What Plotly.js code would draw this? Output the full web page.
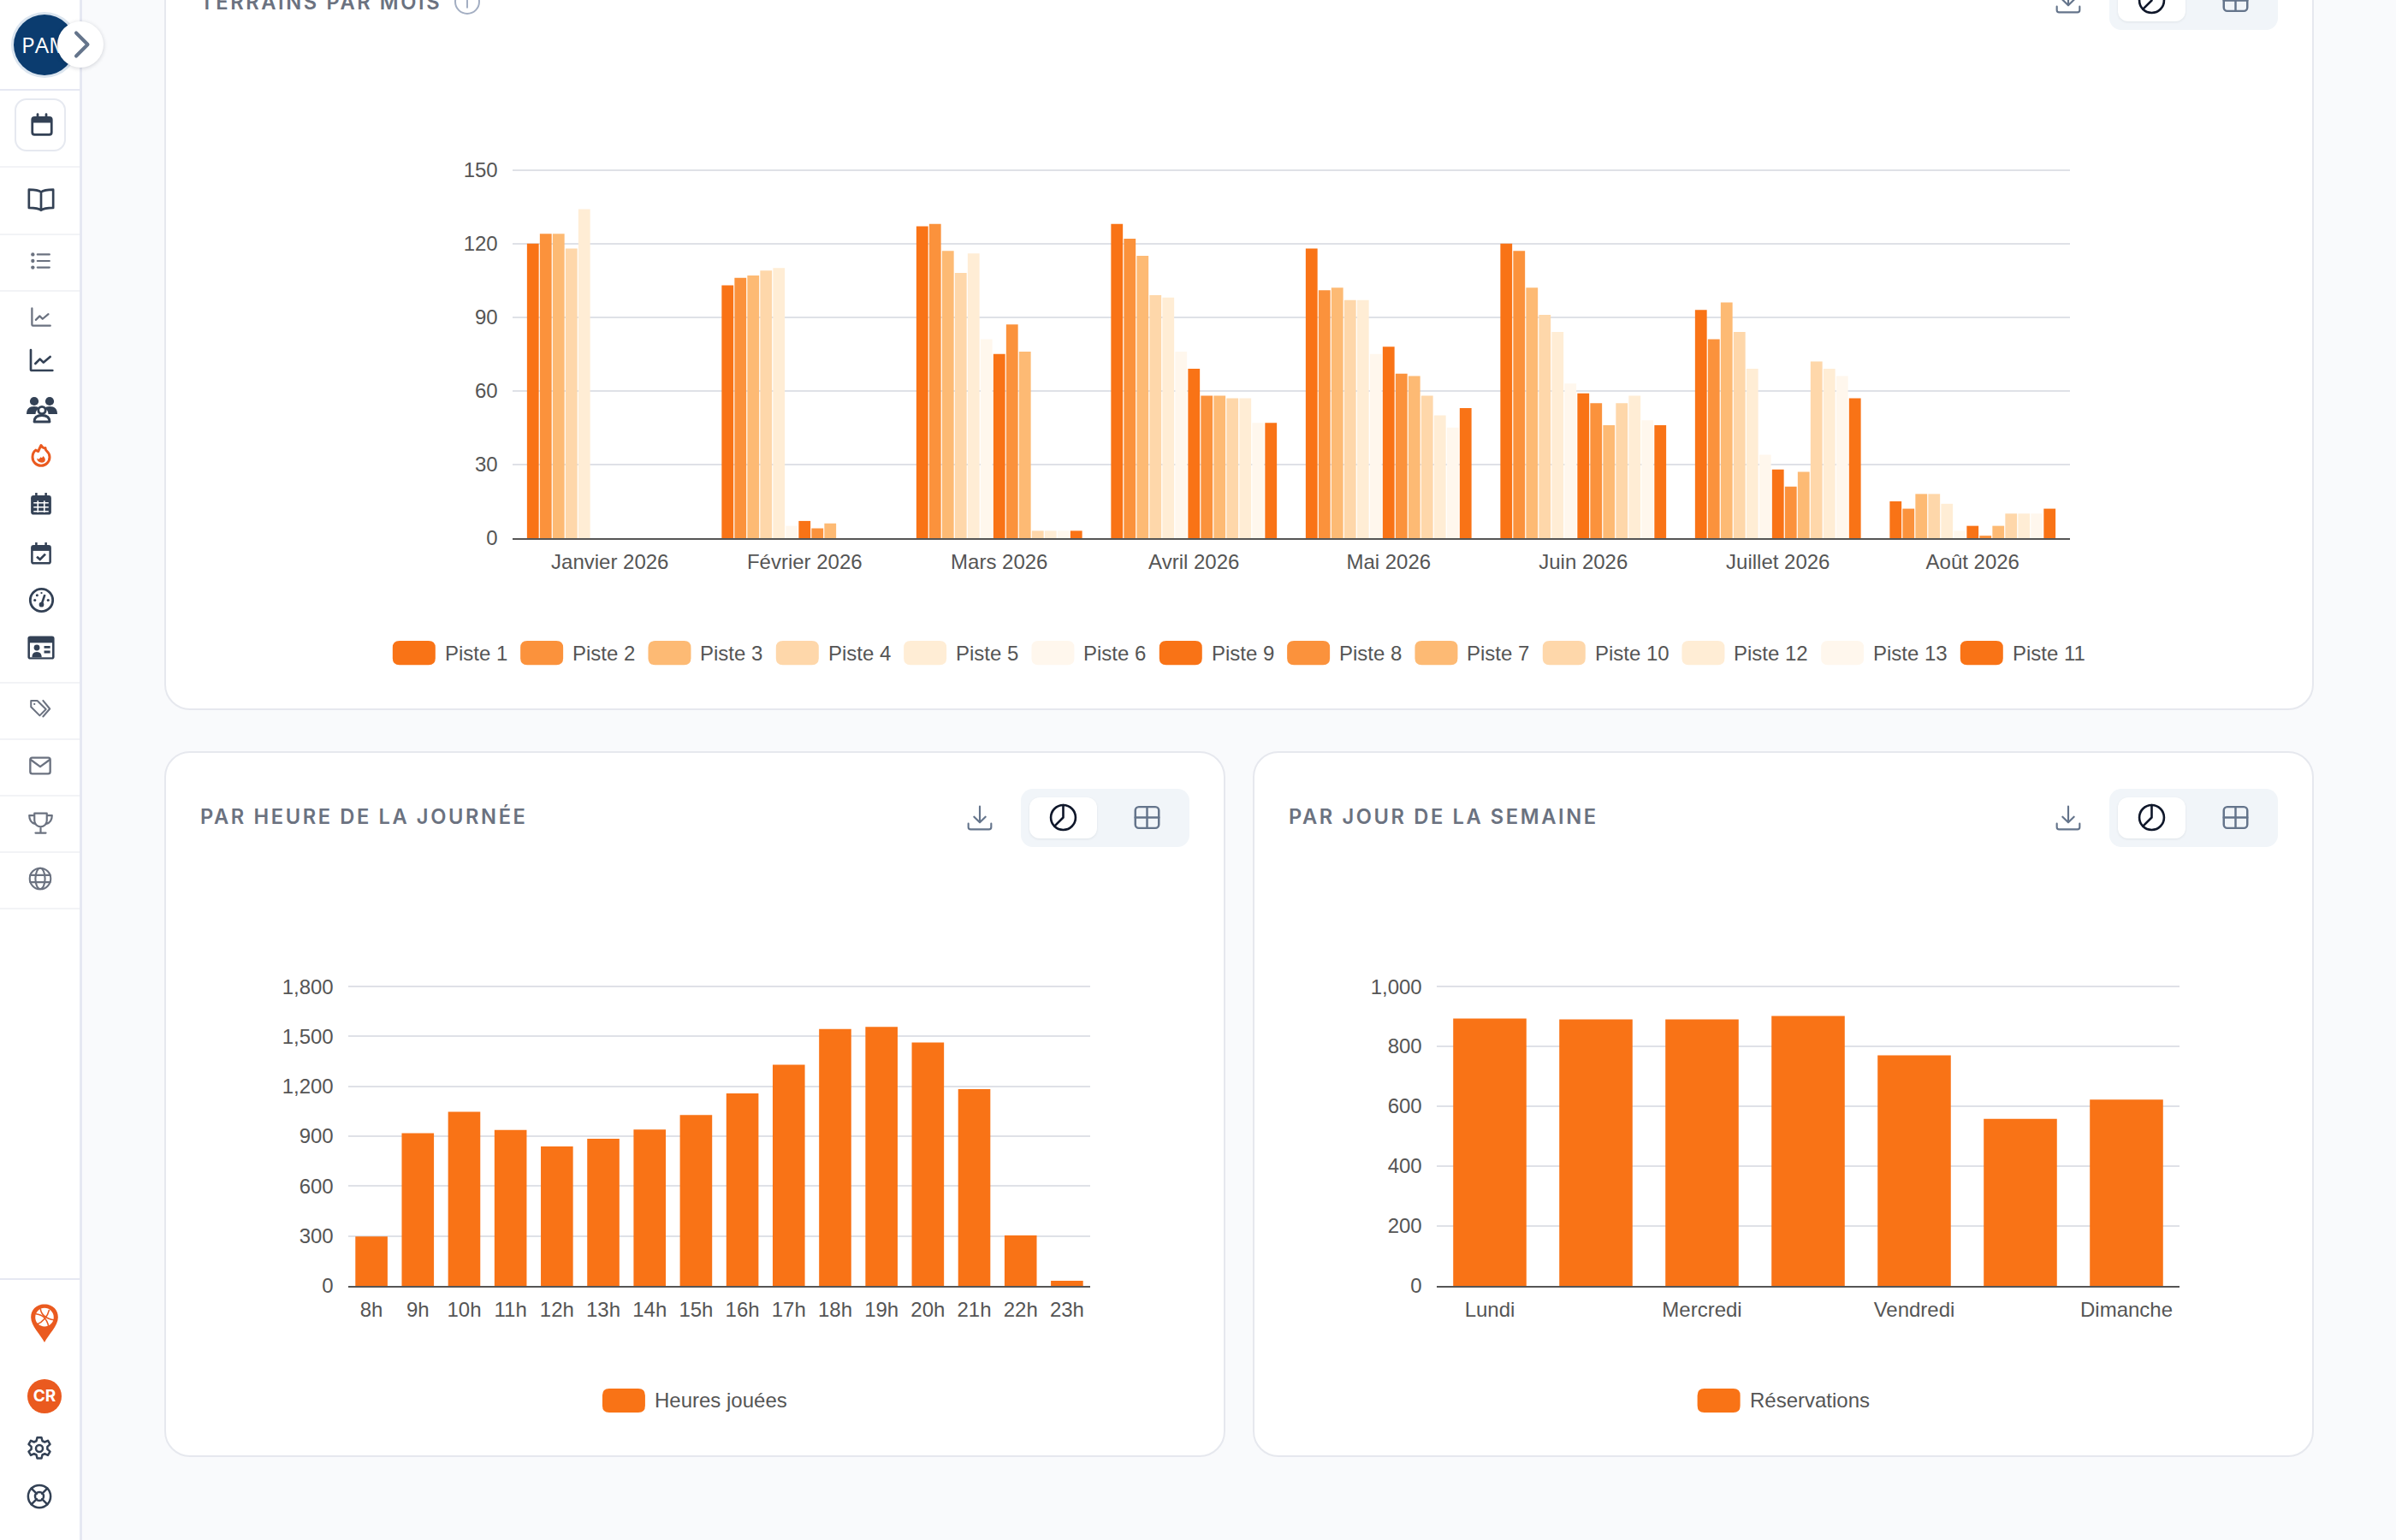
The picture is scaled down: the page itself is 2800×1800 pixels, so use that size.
<!DOCTYPE html>
<html lang="fr"><head><meta charset="utf-8">
<script src="https://cdn.plot.ly/plotly-3.0.1.min.js"></script>
<style>
html,body{margin:0;padding:0;width:2800px;height:1800px;overflow:hidden;background:#f9fafc;font-family:"Liberation Sans",sans-serif}
.abs{position:absolute}
.card{position:absolute;box-sizing:border-box;background:#fff;border:2px solid #e6e8ee;border-radius:30px}
.chart{position:absolute}
.title{position:absolute;font:600 23.7px Inter,sans-serif;letter-spacing:2.6px;color:#6b7280;white-space:nowrap;line-height:30px}
.toggle{position:absolute;width:197px;height:68px;background:#f1f5f9;border-radius:14px}
.on{position:absolute;left:10px;top:10px;width:79px;height:48px;background:#fff;border-radius:12px;box-shadow:0 1px 3px rgba(15,23,42,.08)}
.ic{position:absolute}
.side{position:absolute;left:0;top:0;width:96px;height:1800px;background:#fff;box-sizing:border-box;border-right:3px solid #e6e8f2}
.dv{position:absolute;left:0;width:93px;height:2px;background:#f2f3f6}
</style></head><body>
<div class="card" style="left:192px;top:-60px;width:2512px;height:890px"></div>
<div class="card" style="left:192px;top:878px;width:1240px;height:825px"></div>
<div class="card" style="left:1464px;top:878px;width:1240px;height:825px"></div>
<div id="c1" class="chart"></div><div id="c2" class="chart"></div><div id="c3" class="chart"></div>
<div id="chrome"></div>
<script>
// ---------- data ----------
const months = ["Janvier 2026","Février 2026","Mars 2026","Avril 2026","Mai 2026","Juin 2026","Juillet 2026","Août 2026"];
const piste1  = [120,103,127,128,118,120,93,15];
const piste2  = [124,106,128,122,101,117,81,12];
const piste3  = [124,107,117,115,102,102,96,18];
const piste4  = [118,109,108,99,97,91,84,18];
const piste5  = [134,110,116,98,97,84,69,14];
const piste6  = [0,5,81,76,75,63,34,3];
const piste9  = [0,7,75,69,78,59,28,5];
const piste8  = [0,4,87,58,67,55,21,1];
const piste7  = [0,6,76,58,66,46,27,5];
const piste10 = [0,0,3,57,58,55,72,10];
const piste12 = [0,0,3,57,50,58,69,10];
const piste13 = [0,0,3,47,45,48,66,10];
const piste11 = [0,0,3,47,53,46,57,12];
const monthNames  = ["Piste 1","Piste 2","Piste 3","Piste 4","Piste 5","Piste 6","Piste 9","Piste 8","Piste 7","Piste 10","Piste 12","Piste 13","Piste 11"];
const monthSeries = [piste1,piste2,piste3,piste4,piste5,piste6,piste9,piste8,piste7,piste10,piste12,piste13,piste11];
const shades = ["#f97316","#fb923c","#fdba74","#fed7aa","#ffedd5","#fff7ed","#f97316","#fb923c","#fdba74","#fed7aa","#ffedd5","#fff7ed","#f97316"];
const monthTicks = [0,30,60,90,120,150];

const hours = ["8h","9h","10h","11h","12h","13h","14h","15h","16h","17h","18h","19h","20h","21h","22h","23h"];
const hoursPlayed = [297,918,1047,937,838,885,940,1027,1157,1330,1545,1558,1464,1183,303,31];
const hourTicks = [0,300,600,900,1200,1500,1800];

const days = ["Lundi","Mardi","Mercredi","Jeudi","Vendredi","Samedi","Dimanche"];
const dayLabels = ["Lundi","Mercredi","Vendredi","Dimanche"];
const bookings = [893,890,890,902,770,558,622];
const dayTicks = [0,200,400,600,800,1000];

// ---------- helpers ----------
const FONT = "Liberation Sans";
const TXT = "#555555";
const FS = 24;
function textW(s){const c=textW.c||(textW.c=document.createElement("canvas").getContext("2d"));c.font=FS+"px '"+FONT+"'";return c.measureText(s).width}

function draw(id,box,plot,traces,xcfg,ticks,maxY,bargap,groupgap,legendNames,legendColors,legendY){
  const el=document.getElementById(id);
  el.style.cssText=`left:${box.l}px;top:${box.t}px;width:${box.w}px;height:${box.h}px`;
  // the range runs a hair past the last tick so that its gridline is kept
  const over=1.006;
  const top=plot.b-(plot.b-plot.t)*over;
  const m={l:plot.l-box.l,r:box.l+box.w-plot.r,t:top-box.t,b:box.t+box.h-plot.b,pad:0,autoexpand:false};
  const pw=plot.r-plot.l,ph=plot.b-top;
  const fx=p=>(p-plot.l)/pw, fy=p=>(plot.b-p)/ph;
  // legend drawn as shapes + annotations, centred on the card
  const sw=50,sh=28,rad=8,tg=11,gap=15;
  const widths=legendNames.map(n=>sw+tg+textW(n));
  const total=widths.reduce((a,b)=>a+b,0)+gap*(widths.length-1);
  let x=box.l+box.w/2-total/2;
  const shapes=[],ann=[];
  legendNames.forEach((n,i)=>{
    const a=x,b=x+sw,t=legendY-sh/2,u=legendY+sh/2;
    const P=(px,py)=>fx(px)+","+fy(py);
    const path="M"+P(a+rad,t)+" L"+P(b-rad,t)+" Q"+P(b,t)+" "+P(b,t+rad)+" L"+P(b,u-rad)+" Q"+P(b,u)+" "+P(b-rad,u)+
      " L"+P(a+rad,u)+" Q"+P(a,u)+" "+P(a,u-rad)+" L"+P(a,t+rad)+" Q"+P(a,t)+" "+P(a+rad,t)+" Z";
    shapes.push({type:"path",xref:"paper",yref:"paper",path,fillcolor:legendColors[i],line:{width:0}});
    ann.push({xref:"paper",yref:"paper",x:fx(x+sw+tg-2),y:fy(legendY),xanchor:"left",yanchor:"middle",showarrow:false,text:n,font:{family:FONT,size:FS,color:TXT}});
    x+=widths[i]+gap;
  });
  Plotly.newPlot(el,traces,{
    width:box.w,height:box.h,margin:m,paper_bgcolor:"rgba(0,0,0,0)",plot_bgcolor:"rgba(0,0,0,0)",
    barmode:"group",bargap,bargroupgap:groupgap,showlegend:false,shapes,annotations:ann,
    font:{family:FONT,size:FS,color:TXT},
    xaxis:Object.assign({type:"category",showgrid:false,zeroline:false,showline:true,linecolor:"#555555",linewidth:2,ticks:"outside",ticklen:5,tickcolor:"rgba(0,0,0,0)",tickangle:0,tickfont:{family:FONT,size:FS,color:TXT},fixedrange:true},xcfg),
    yaxis:{range:[0,maxY*over],tickmode:"array",tickvals:ticks,ticktext:ticks.map(v=>v.toLocaleString("en-US")),showgrid:true,gridcolor:"#dfe1e7",gridwidth:2,zeroline:false,showline:false,ticks:"outside",ticklen:11.5,tickcolor:"rgba(0,0,0,0)",tickfont:{family:FONT,size:FS,color:TXT},fixedrange:true}
  },{staticPlot:true,displayModeBar:false});
}

// ---------- charts ----------
draw("c1",{l:192,t:0,w:2512,h:830},{l:599,r:2419.5,t:199,b:629},
  monthNames.map((n,i)=>({type:"bar",name:n,x:months,y:monthSeries[i],marker:{color:shades[i],line:{width:0}}})),
  {},monthTicks,150,0.143,0.08,monthNames,shades,763);
draw("c2",{l:192,t:878,w:1240,h:825},{l:407,r:1274.5,t:1153,b:1503},
  [{type:"bar",name:"Heures jouées",x:hours,y:hoursPlayed,marker:{color:shades[0],line:{width:0}}}],
  {},hourTicks,1800,0.306,0,["Heures jouées"],[shades[0]],1637);
draw("c3",{l:1464,t:878,w:1240,h:825},{l:1679,r:2546.6,t:1153,b:1503},
  [{type:"bar",name:"Réservations",x:days,y:bookings,marker:{color:shades[0],line:{width:0}}}],
  {tickmode:"array",tickvals:dayLabels,ticktext:dayLabels},dayTicks,1000,0.31,0,["Réservations"],[shades[0]],1637);

// ---------- page chrome ----------
const S=(p,c="#334155",w=2,fill="none")=>`<g fill="${fill}" stroke="${c}" stroke-width="${w}" stroke-linecap="round" stroke-linejoin="round">${p}</g>`;
const I={
 download:c=>S('<path d="M12 2v14M7 11l5 5 5-5M2 17v3a2 2 0 0 0 2 2h16a2 2 0 0 0 2-2v-3"/>',c,1.6),
 pie:c=>S('<circle cx="12" cy="12" r="10.5"/><path d="M12 1.5V12l-7.4 7.4"/>',c,1.9),
 table:c=>S('<rect x="2" y="3" width="20" height="18" rx="3"/><path d="M12 3v18M2 12h20"/>',c,1.8),
 cal:c=>S('<rect x="3" y="5" width="18" height="16" rx="2"/><path d="M8 2v3M16 2v3"/>',c,2.2)+`<rect x="3" y="5" width="18" height="5" fill="${c}"/>`,
 book:c=>S('<path d="M12 6c-2-1.6-5-2-10-2v15c5 0 8 .4 10 2 2-1.6 5-2 10-2V4c-5 0-8 .4-10 2zM12 6v15"/>',c,1.9),
 list:c=>S('<path d="M9 5h13M9 12h13M9 19h13"/>',c,2)+`<g fill="${c}"><circle cx="4" cy="5" r="2"/><circle cx="4" cy="12" r="2"/><circle cx="4" cy="19" r="2"/></g>`,
 line:c=>S('<path d="M3 3v17a1 1 0 0 0 1 1h18M7 15l4-4 3 3 6-5"/>',c,2),
 users:c=>`<g fill="${c}"><circle cx="6" cy="6" r="3.4"/><circle cx="18" cy="6" r="3.4"/><path d="M0 16c0-4 2-6 6-6 2 0 3 .5 4 1.5-2 1-3 2.5-3 4.5H0zM24 16c0-4-2-6-6-6-2 0-3 .5-4 1.5 2 1 3 2.5 3 4.5h7z"/></g>`+S('<circle cx="12" cy="13" r="2.8"/><path d="M6 22c0-3 2-5 6-5s6 2 6 5z"/>',c,1.9),
 flame:c=>S('<path d="M12 2c1 2 3 3 4 2.5 0 1 .5 2 1 2.5 2 1.8 3 3.5 3 6a8 8 0 0 1-16 0c0-3 1-5 3-6.500C8 7 9 8 9.5 7.5 10 6 11 4 12 2z"/>',c,2.4)+`<path d="M8 14c1 1.5 2.5 1 3.5-1 1 1 1.5 1 2.5-1 1.5 1.5 2.5 3 1.5 5a4.5 4.5 0 0 1-7.5-3z" fill="${c}"/>`,
 calgrid:c=>`<rect x="2.5" y="4" width="19" height="18" rx="2.5" fill="${c}"/><path d="M7.5 1.5v4M16.5 1.5v4" stroke="${c}" stroke-width="2"/><path d="M5 11h14M5 15h14M5 19h14M9 9v11M15 9v11" stroke="#fff" stroke-width="1.3"/>`,
 calchk:c=>`<rect x="2.5" y="4" width="19" height="18" rx="2.5" fill="${c}"/><rect x="4.5" y="9.5" width="15" height="10.5" fill="#fff"/><path d="M7.5 1.5v4M16.5 1.5v4" stroke="${c}" stroke-width="2"/><path d="M8 15l3 2.5 5-5" fill="none" stroke="${c}" stroke-width="2.2"/>`,
 gauge:c=>S('<circle cx="12" cy="12" r="10.2"/>',c,2.2)+`<g fill="${c}"><circle cx="12" cy="16" r="2.2"/><circle cx="6" cy="12" r="1.2"/><circle cx="18" cy="12" r="1.2"/><circle cx="8" cy="7.5" r="1.2"/><circle cx="12" cy="5.5" r=".9"/></g><path d="M12 16l3-9" stroke="${c}" stroke-width="2"/>`,
 id:c=>`<rect x="1" y="2.5" width="22" height="19" rx="2" fill="${c}"/><rect x="2.8" y="8" width="18.4" height="12" fill="#fff"/><circle cx="8.5" cy="12" r="2.4" fill="${c}"/><path d="M4.5 20c0-3 1.5-4.5 4-4.5s4 1.5 4 4.5z" fill="${c}"/><path d="M14.5 11.5h5M14.5 15.5h5" stroke="${c}" stroke-width="2"/>`,
 tags:c=>S('<path d="M2 3.5V10l9 9 6.5-6.5-9-9z"/><path d="M14.5 3.5l7 8.5-7 8"/>',c,1.8)+`<circle cx="5.5" cy="7" r="1" fill="${c}"/>`,
 mail:c=>S('<rect x="2" y="4" width="20" height="16" rx="2"/><path d="M2.5 6l9.5 7 9.5-7"/>',c,2),
 trophy:c=>S('<path d="M6 3h12v7a6 6 0 0 1-12 0zM6 5H1c0 5 2 7.5 6 8.5M18 5h5c0 5-2 7.5-6 8.5M12 16v6M7 22h10"/>',c,1.8),
 globe:c=>S('<circle cx="12" cy="12" r="10.5"/><ellipse cx="12" cy="12" rx="4.8" ry="10.5"/><path d="M2 8.5h20M2 15.5h20"/>',c,1.8),
 gear:c=>S('<path d="M10 1.8h4l.8 3.2 2.2 1 3-1.3 2 3.4-2.5 2.2v2.4l2.5 2.2-2 3.4-3-1.3-2.2 1-.8 3.2h-4l-.8-3.2-2.2-1-3 1.3-2-3.4 2.5-2.2v-2.4L2 8.1l2-3.4 3 1.3 2.2-1z"/><circle cx="12" cy="12" r="3.2"/>',c,2),
 buoy:c=>S('<circle cx="12" cy="12" r="10.5"/><circle cx="12" cy="12" r="4"/><path d="M4.5 4.5l5 5M19.5 4.5l-5 5M4.5 19.5l5-5M19.500 19.500l-5-5"/>',c,2),
 chevron:c=>S('<path d="M8 3l9 9-9 9"/>',c,2.7),
 info:c=>S('<circle cx="12" cy="12" r="10.5"/><path d="M12 11v6M12 7v.5"/>',c,1.5),
 pin:c=>`<path d="M12 1C5.5 1 2 5.5 2 10.5 2 17 9 23 12 29c3-6 10-12 10-18.5C22 5.5 18.5 1 12 1z" fill="${c}"/><circle cx="12" cy="10.5" r="6.8" fill="#fff"/><path d="M5.500 8c4 .3 8 3 9.500 9M9 4c.3 4.500 4.500 8 10 8.500M7 15.500c3-1 7.500-5.500 8.500-10.500" fill="none" stroke="${c}" stroke-width="1"/>`
};
function icon(name,color,cx,cy,size,h){
  const ih=h||size;
  return `<svg class="ic" style="left:${cx-size/2}px;top:${cy-ih/2}px" width="${size}" height="${ih}" viewBox="0 0 24 ${h?24*h/size:24}">${I[name](color)}</svg>`;
}
const DK="#334155",GY="#6b7280",OR="#ea5a1f";
let html='';
function tools(x,dy){
  html+=icon("download","#64748b",x+951.5,956+dy,32);
  html+=`<div class="toggle" style="left:${x+1000}px;top:${922+dy}px"><div class="on"></div></div>`;
  html+=icon("pie","#0f172a",x+1049,955+dy,33);
  html+=icon("table","#64748b",x+1147,955+dy,33);
}
function title(text,x,y){html+=`<div class="title" style="left:${x}px;top:${y-15}px">${text}</div>`}
title("PAR HEURE DE LA JOURNÉE",234,955); tools(193,0);
title("PAR JOUR DE LA SEMAINE",1506,955); tools(1465,0);
title("TERRAINS PAR MOIS",234,3); tools(1465,-955);
html+=icon("info","#a3aec2",546,2,32);
// sidebar
html+=`<div class="side">`;
[[104,"#e6e8f2"],[194],[273],[339],[797],[863],[929],[995],[1061],[1494,"#e6e8f2"]].forEach(d=>{html+=`<div class="dv" style="top:${d[0]}px;${d[1]?'background:'+d[1]:''}"></div>`});
html+=`</div>`;
html+=`<div class="abs" style="left:13px;top:14px;width:78px;height:77px;box-sizing:border-box;border-radius:50%;background:#0b3c6f;border:3px solid #dbe5ef;overflow:hidden;color:#fff;font:400 26px 'Open Sans',sans-serif;line-height:71px;padding-left:9px;white-space:nowrap">PAM</div>`;
html+=`<div class="abs" style="left:67px;top:25px;width:54px;height:54px;border-radius:50%;background:#fff;box-shadow:0 1px 5px rgba(15,23,42,.18)"></div>`;
html+=icon("chevron","#64748b",95,52,36);
html+=`<div class="abs" style="left:17px;top:115px;width:60px;height:62px;box-sizing:border-box;border:2px solid #e6e9f0;border-radius:14px;background:#fff"></div>`;
html+=icon("cal",DK,49,146,30);
html+=icon("book",DK,48,233,34);
html+=icon("list",GY,47,305,26);
html+=icon("line",GY,47,370,27);
html+=icon("line",DK,48,421,32);
html+=icon("users",DK,49,478,36);
html+=icon("flame",OR,48,533,30);
html+=icon("calgrid",DK,48,589,30);
html+=icon("calchk",DK,48,647,30);
html+=icon("gauge",DK,48,701,31);
html+=icon("id",DK,48,757,34);
html+=icon("tags",GY,47,828,27);
html+=icon("mail",GY,47,895,28);
html+=icon("trophy",GY,47,961,29);
html+=icon("globe",GY,47,1027,28);
html+=icon("pin",OR,52,1547,38,48);
html+=`<div class="abs" style="left:32px;top:1612px;width:40px;height:40px;border-radius:50%;background:#ea5a1f;color:#fff;font:700 19px Inter,sans-serif;text-align:center;line-height:40px">CR</div>`;
html+=icon("gear",DK,46,1693,30);
html+=icon("buoy",DK,46,1749,30);
document.getElementById("chrome").innerHTML=html;
</script>
</body></html>
